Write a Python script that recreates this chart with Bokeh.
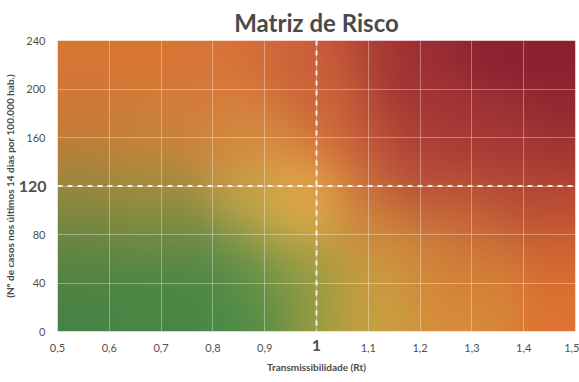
import numpy as np
from bokeh.plotting import figure
from bokeh.models import FixedTicker, Span, LinearAxis
from bokeh.embed import file_html
from bokeh.resources import INLINE

# ---- data ----
x_ticks = [0.5, 0.6, 0.7, 0.8, 0.9, 1.0, 1.1, 1.2, 1.3, 1.4, 1.5]
x_tick_labels = ["0,5", "0,6", "0,7", "0,8", "0,9", "1", "1,1", "1,2", "1,3", "1,4", "1,5"]
y_ticks = [0, 40, 80, 120, 160, 200, 240]
y_tick_labels = ["0", "40", "80", "120", "160", "200", "240"]
rt_threshold = 1.0
cases_threshold = 120
x_min, x_max = 0.5, 1.5
y_min, y_max = 0, 240

title_text = "Matriz de Risco"
x_label = "Transmissibilidade (Rt)"
y_label = "(Nº de casos nos últimos 14 dias por 100.000 hab.)"

# ---- background gradient (styling) ----
anchors = [
    (0.50, 240, "#D87634", 1), (0.70, 240, "#D87535", 1), (0.85, 240, "#D87238", 1),
    (0.95, 240, "#D06A3A", 1), (1.00, 240, "#C85A3A", 1), (1.10, 240, "#B04036", 1),
    (1.20, 240, "#982A34", 1), (1.35, 240, "#8C2232", 1), (1.50, 240, "#881F30", 1),
    (0.50, 200, "#D47636", 1), (0.80, 200, "#D87838", 1), (1.00, 200, "#CC6238", 1),
    (1.20, 200, "#A03434", 1), (1.50, 200, "#8E2430", 1),
    (0.50, 160, "#C47C38", 1), (0.70, 160, "#CC8038", 1), (0.82, 160, "#D08840", 1),
    (0.90, 160, "#DA8A42", 1), (1.00, 160, "#D0703C", 1), (1.10, 160, "#C05038", 1),
    (1.20, 160, "#A83A36", 1), (1.35, 160, "#A03436", 1), (1.50, 160, "#9C3230", 1),
    (0.50, 120, "#A08A3C", 1), (0.70, 120, "#A88E40", 1), (0.88, 120, "#C8A048", 1),
    (1.00, 120, "#E4A044", 1), (1.10, 120, "#C8683A", 1), (1.20, 120, "#B85038", 1),
    (1.35, 120, "#B44A36", 1), (1.50, 120, "#B04234", 1),
    (0.50, 90, "#788840", 1), (0.70, 90, "#848C42", 1), (0.88, 90, "#A8A048", 1),
    (0.96, 100, "#ECB24A", 2), (1.10, 90, "#D0803C", 1), (1.30, 90, "#C86438", 1),
    (1.50, 90, "#C45634", 1),
    (0.50, 60, "#5C8444", 1), (0.70, 60, "#568844", 1), (0.85, 60, "#4E8A48", 1),
    (0.93, 60, "#8A9A44", 1), (1.00, 60, "#A8A040", 1), (1.10, 60, "#D09A40", 1),
    (1.20, 60, "#D08A3C", 1), (1.30, 60, "#D07A38", 1), (1.50, 60, "#D46A34", 1),
    (0.50, 30, "#4A8244", 1), (0.70, 30, "#4A8646", 1), (0.88, 30, "#4C8A48", 1),
    (0.97, 30, "#8A9A44", 1), (1.10, 30, "#C8A040", 1), (1.30, 30, "#D88838", 1),
    (1.50, 30, "#DC7232", 1),
    (0.50, 0, "#468244", 1), (0.70, 0, "#488646", 1), (0.90, 0, "#4C8A48", 1),
    (1.00, 0, "#A8A040", 1), (1.10, 0, "#C8A040", 1), (1.25, 0, "#D88E38", 1),
    (1.50, 0, "#E07632", 1),
]
W, H = 520, 292
aspect = H / W
gx = np.linspace(x_min, x_max, W)
gy = np.linspace(y_min, y_max, H)
GX, GY = np.meshgrid(gx, gy)
U = (GX - x_min) / (x_max - x_min)
V = (GY - y_min) / (y_max - y_min) * aspect
num = np.zeros((H, W, 3))
den = np.zeros((H, W))
sig = 0.06
for ax_, ay_, col, wt in anchors:
    au = (ax_ - x_min) / (x_max - x_min)
    av = (ay_ - y_min) / (y_max - y_min) * aspect
    w = wt * np.exp(-((U - au) ** 2 + (V - av) ** 2) / (2 * sig * sig))
    rgb = np.array([int(col[i:i + 2], 16) for i in (1, 3, 5)], dtype=float)
    num += w[..., None] * rgb
    den += w
rgbimg = np.clip(num / den[..., None], 0, 255).astype(np.uint8)
img = np.empty((H, W), dtype=np.uint32)
view = img.view(dtype=np.uint8).reshape((H, W, 4))
view[..., :3] = rgbimg
view[..., 3] = 255

FONT = "Lato"
TXT = "#4a4a4a"
TICK = "#505050"

p = figure(width=579, height=382, x_range=(x_min, x_max), y_range=(y_min, y_max),
           output_backend="svg", toolbar_location=None,
           min_border_left=57, min_border_right=4, min_border_top=40, min_border_bottom=51)
p.background_fill_color = "white"
p.outline_line_color = None

r = p.image_rgba(image=[img], x=x_min, y=y_min, dw=x_max - x_min, dh=y_max - y_min)
r.level = "image"

p.title.text = title_text
p.title.align = "center"
p.title.offset = -8
p.title.standoff = 8
p.title.text_font = FONT
p.title.text_font_size = "24px"
p.title.text_font_style = "bold"
p.title.text_color = TXT

xa = p.xaxis[0]
ya = p.yaxis[0]
xa.ticker = FixedTicker(ticks=x_ticks)
ya.ticker = FixedTicker(ticks=y_ticks)
xa.major_label_overrides = {t: ("" if t == rt_threshold else l) for t, l in zip(x_ticks, x_tick_labels)}
ya.major_label_overrides = {t: ("" if t == cases_threshold else l) for t, l in zip(y_ticks, y_tick_labels)}
xa.major_label_standoff = 6
ya.major_label_standoff = 6

# emphasised threshold labels (bold, larger) on companion axes
xb = LinearAxis(ticker=FixedTicker(ticks=[rt_threshold]),
                major_label_overrides={rt_threshold: x_tick_labels[x_ticks.index(rt_threshold)]},
                major_label_standoff=-21, axis_label=x_label, axis_label_standoff=7)
yb = LinearAxis(ticker=FixedTicker(ticks=[cases_threshold]),
                major_label_overrides={cases_threshold: y_tick_labels[y_ticks.index(cases_threshold)]},
                major_label_standoff=-29, axis_label=y_label, axis_label_standoff=0)
p.add_layout(xb, "below")
p.add_layout(yb, "left")

for ax in (xa, ya, xb, yb):
    ax.axis_line_color = None
    ax.major_tick_line_color = None
    ax.minor_tick_line_color = None
    ax.major_label_text_font = FONT
    ax.major_label_text_font_size = "11px"
    ax.major_label_text_color = TICK
    ax.axis_label_text_font = FONT
    ax.axis_label_text_font_size = "10px"
    ax.axis_label_text_font_style = "bold"
    ax.axis_label_text_color = TXT
for ax in (xb, yb):
    ax.major_label_text_font_size = "16px"
    ax.major_label_text_font_style = "bold"

p.grid.grid_line_color = "white"
p.grid.grid_line_alpha = 0.35
p.grid.grid_line_width = 1

p.add_layout(Span(location=rt_threshold, dimension="height", line_color="white",
                  line_alpha=0.85, line_width=2, line_dash="5 5"))
p.add_layout(Span(location=cases_threshold, dimension="width", line_color="white",
                  line_alpha=0.85, line_width=2, line_dash="5 5"))

open("out.html", "w").write(file_html(p, INLINE))
